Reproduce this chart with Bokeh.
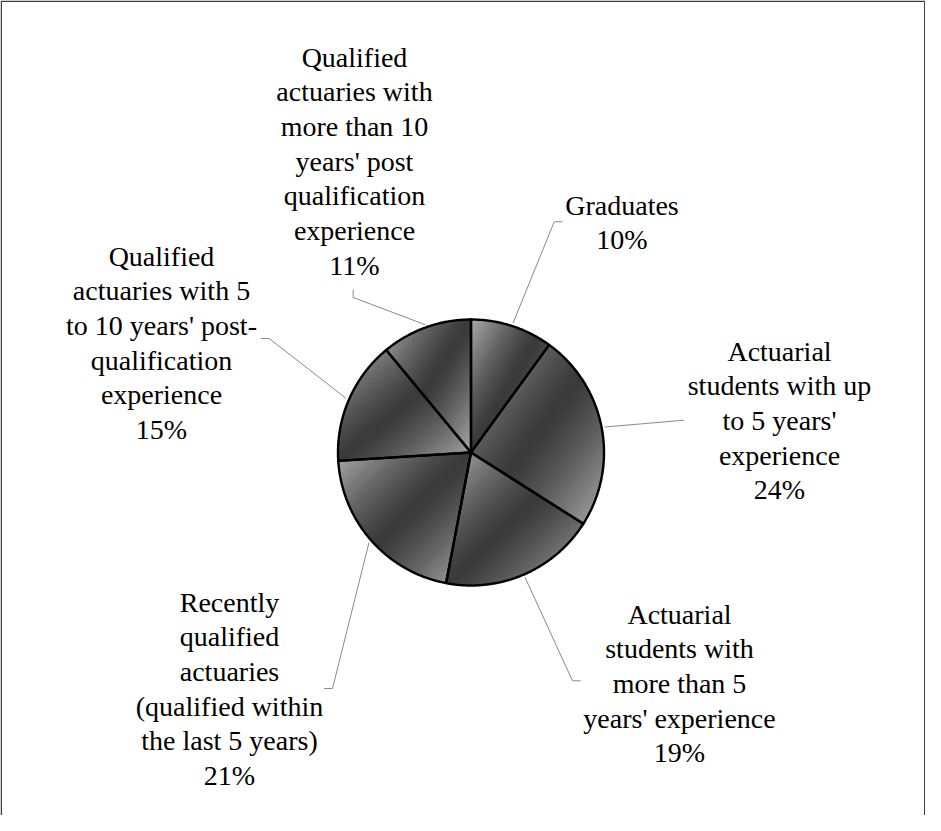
import numpy as np
from bokeh.plotting import figure
from bokeh.models import Range1d
from bokeh.core.properties import value
from bokeh.embed import file_html
from bokeh.resources import INLINE

# ---------------- data ----------------
categories = [
    "Graduates",
    "Actuarial\nstudents with up\nto 5 years'\nexperience",
    "Actuarial\nstudents with\nmore than 5\nyears' experience",
    "Recently\nqualified\nactuaries\n(qualified within\nthe last 5 years)",
    "Qualified\nactuaries with 5\nto 10 years' post-\nqualification\nexperience",
    "Qualified\nactuaries with\nmore than 10\nyears' post\nqualification\nexperience",
]
shares = [10, 24, 19, 21, 15, 11]
pct_labels = ["10%", "24%", "19%", "21%", "15%", "11%"]

# ---------------- layout (page pixel coordinates) ----------------
W, H = 925, 815
OX, OY = 8, 8


def tx(x):
    return x - OX


def ty(y):
    return OY + H - y


CX, CY, R = 478.5, 460.0, 133.0
LINE_STEP = 34.7
FONT_SIZE = "28px"
# label centre x, centre y of first line
label_pos = [(629.5, 212.5), (787.0, 358.5), (687.0, 621.5),
             (237.0, 609.5), (169.0, 263.5), (362.0, 64.5)]
# leader line: attach point at label, elbow point
leader_attach = [(570.0, 229.3), (691.7, 427.7), (588.3, 688.3),
                 (331.7, 696.0), (268.3, 346.0), (360.7, 297.3)]
leader_elbow = [(561.7, 229.3), (691.7, 427.7), (580.0, 688.3),
                (340.0, 696.0), (276.7, 346.0), (360.7, 305.0)]

LIGHT, DARK = 172, 58
NSTRIP = 60

p = figure(width=W, height=H, output_backend="svg", toolbar_location=None,
           x_range=Range1d(0, W), y_range=Range1d(0, H),
           x_axis_type=None, y_axis_type=None, min_border=0)
p.grid.visible = False
p.outline_line_color = None
p.background_fill_color = "white"
p.border_fill_color = "white"


def pt(theta_deg, r):
    th = np.radians(theta_deg)
    return (CX + r * np.sin(th), CY - r * np.cos(th))


def clip(poly, f):
    out = []
    n = len(poly)
    for i in range(n):
        P = poly[i]
        Q = poly[(i + 1) % n]
        fp, fq = f(P), f(Q)
        if fp >= 0:
            out.append(P)
        if (fp >= 0) != (fq >= 0):
            t = fp / (fp - fq)
            out.append((P[0] + t * (Q[0] - P[0]), P[1] + t * (Q[1] - P[1])))
    return out


total = float(sum(shares))
starts, ends = [], []
acc = 0.0
for s in shares:
    starts.append(acc / total * 360.0)
    acc += s
    ends.append(acc / total * 360.0)

strip_xs, strip_ys, strip_cols = [], [], []
out_xs, out_ys = [], []
for a0, a1 in zip(starts, ends):
    n = max(8, int((a1 - a0) * 2))
    arc = [pt(a, R) for a in np.linspace(a0, a1, n)]
    poly = [(CX, CY)] + arc
    xs = [q[0] for q in poly]
    ys = [q[1] for q in poly]
    xmin, xmax, ymin, ymax = min(xs), max(xs), min(ys), max(ys)
    w, h = xmax - xmin, ymax - ymin

    def tval(q, xmin=xmin, ymin=ymin, w=w, h=h):
        return ((q[0] - xmin) / w + (q[1] - ymin) / h) / 2.0

    for k in range(NSTRIP):
        t0 = k / NSTRIP
        t1 = (k + 1) / NSTRIP + (0.4 / NSTRIP if k < NSTRIP - 1 else 0.01)
        sp = clip(poly, lambda q, t0=t0: tval(q) - t0)
        sp = clip(sp, lambda q, t1=t1: t1 - tval(q))
        if len(sp) < 3:
            continue
        tm = (k + 0.5) / NSTRIP
        g = int(round(DARK + (LIGHT - DARK) * abs(2 * tm - 1) ** 1.3))
        strip_xs.append([tx(q[0]) for q in sp])
        strip_ys.append([ty(q[1]) for q in sp])
        strip_cols.append("#%02x%02x%02x" % (g, g, g))
    out_xs.append([tx(q[0]) for q in poly])
    out_ys.append([ty(q[1]) for q in poly])

p.patches(strip_xs, strip_ys, fill_color=strip_cols, line_color=strip_cols,
          line_width=0.6)
p.patches(out_xs, out_ys, fill_color=None, line_color="black", line_width=2.4,
          line_join="round")

# leader lines
lx, ly = [], []
for i, (a0, a1) in enumerate(zip(starts, ends)):
    mid = (a0 + a1) / 2.0
    e = pt(mid, R * 1.022)
    pts = [leader_attach[i], leader_elbow[i], e]
    lx.append([tx(q[0]) for q in pts])
    ly.append([ty(q[1]) for q in pts])
p.multi_line(lx, ly, line_color="#8a8a8a", line_width=1)

# labels
txt_x, txt_y, txt = [], [], []
for i, cat in enumerate(categories):
    lines = cat.split("\n") + [pct_labels[i]]
    cx, cy0 = label_pos[i]
    for j, ln in enumerate(lines):
        txt_x.append(tx(cx))
        txt_y.append(ty(cy0 + j * LINE_STEP))
        txt.append(ln)
p.text(txt_x, txt_y, text=txt, text_font=value("Liberation Serif"),
       text_font_size=FONT_SIZE, text_color="black", text_align="center",
       text_baseline="middle")

# frame border (bottom edge lies beyond the visible area in the reference)
p.line([0.75, 0.75, W - 0.75, W - 0.75], [0, H - 0.75, H - 0.75, 0],
       line_color="#404040", line_width=1.5)

open("out.html", "w").write(file_html(p, INLINE))
